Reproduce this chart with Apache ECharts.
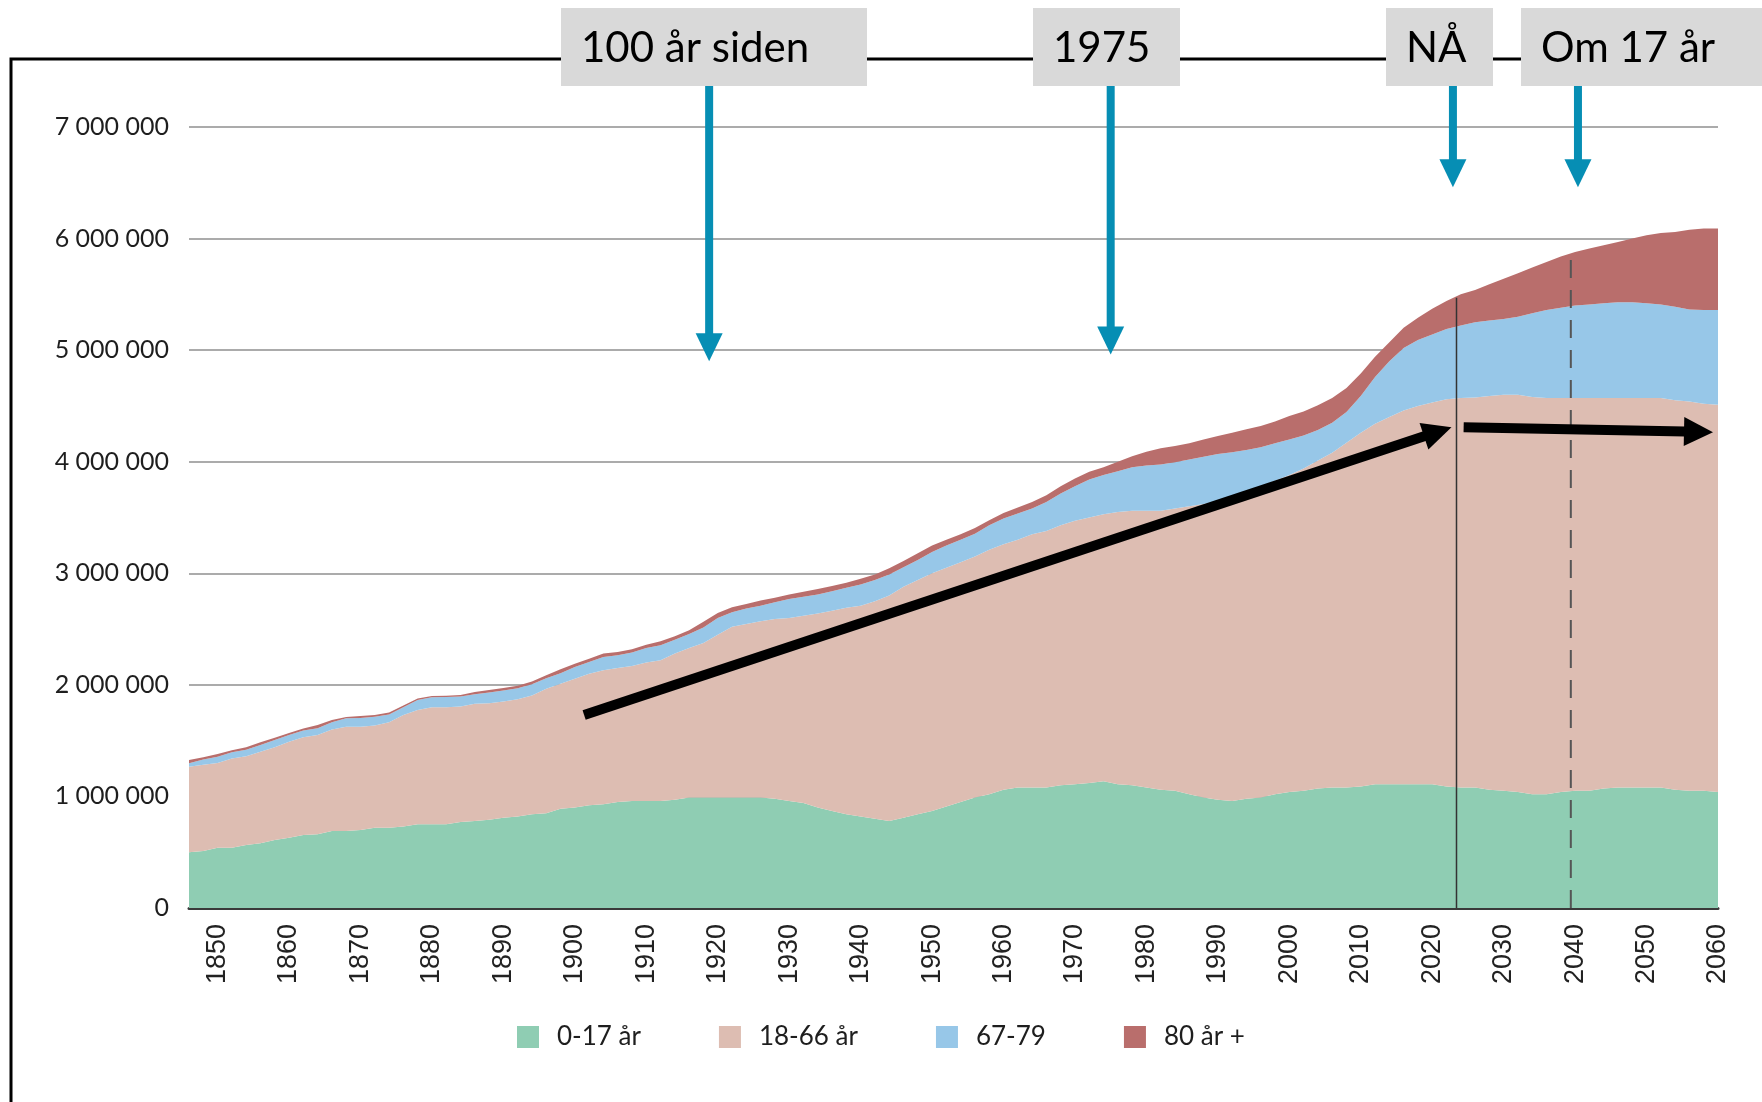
<!DOCTYPE html>
<html>
<head>
<meta charset="utf-8">
<script src="https://cdn.jsdelivr.net/npm/echarts@6/dist/echarts.min.js"></script>
<style>
  html, body { margin: 0; padding: 0; background: #fff; }
  #chart { width: 1762px; height: 1102px; }
</style>
</head>
<body>
<div id="chart"></div>
<script>
// population by age group, in thousands, every second year
const years = [];
for (let y = 1846; y <= 2060; y += 2) years.push(y);

const age0_17 = [
  500, 510, 540, 540, 565, 580, 610, 630, 655, 660,
  690, 690, 700, 720, 720, 730, 750, 750, 750, 770,
  780, 790, 810, 820, 840, 850, 890, 900, 920, 930,
  950, 960, 960, 960, 970, 990, 990, 990, 990, 990,
  990, 980, 960, 940, 900, 870, 840, 820, 800, 780,
  810, 840, 870, 910, 950, 990, 1020, 1060, 1080, 1080,
  1080, 1100, 1110, 1120, 1135, 1110, 1100, 1080, 1060, 1050,
  1020, 990, 970, 960, 980, 990, 1020, 1040, 1050, 1070,
  1080, 1080, 1090, 1110, 1110, 1110, 1110, 1110, 1090, 1080,
  1080, 1060, 1050, 1040, 1020, 1020, 1040, 1050, 1050, 1070,
  1080, 1080, 1080, 1080, 1060, 1050, 1050, 1040
];
const age18_66 = [
  766, 775, 760, 800, 795, 820, 830, 860, 875, 890,
  910, 935, 925, 915, 945, 1000, 1025, 1050, 1050, 1035,
  1050, 1046, 1040, 1050, 1065, 1115, 1120, 1155, 1180, 1200,
  1200, 1210, 1240, 1260, 1310, 1340, 1385, 1460, 1530, 1555,
  1580, 1610, 1640, 1680, 1740, 1795, 1850, 1890, 1950, 2020,
  2070, 2100, 2130, 2140, 2150, 2160, 2190, 2200, 2220, 2270,
  2300, 2330, 2360, 2380, 2395, 2440, 2460, 2480, 2500, 2530,
  2580, 2630, 2680, 2730, 2750, 2790, 2810, 2840, 2890, 2940,
  3000, 3090, 3170, 3230, 3290, 3350, 3390, 3420, 3470, 3490,
  3495, 3530, 3550, 3560, 3560, 3550, 3530, 3520, 3520, 3500,
  3490, 3490, 3490, 3490, 3490, 3490, 3470, 3470
];
const age67_79 = [
  31, 45, 56, 55, 58, 60, 65, 60, 60, 62,
  65, 75, 77, 80, 70, 70, 90, 90, 92, 90,
  85, 96, 100, 100, 100, 95, 95, 105, 105, 120,
  115, 120, 130, 135, 125, 125, 140, 150, 130, 140,
  140, 150, 170, 170, 170, 175, 180, 190, 190, 190,
  175, 180, 190, 200, 200, 205, 220, 230, 235, 230,
  260, 285, 310, 340, 350, 365, 390, 405, 415, 415,
  420, 425, 420, 395, 375, 350, 335, 320, 295, 275,
  270, 275, 330, 420, 500, 560, 590, 610, 630, 650,
  675, 675, 680, 700, 750, 790, 810, 830, 840, 850,
  860, 860, 850, 840, 840, 825, 840, 850
];
const age80plus = [
  29, 22, 24, 20, 22, 25, 20, 18, 18, 28,
  20, 12, 18, 15, 17, 15, 13, 10, 10, 15,
  20, 23, 22, 22, 25, 25, 35, 30, 30, 30,
  30, 30, 30, 35, 30, 35, 50, 45, 45, 40,
  45, 40, 40, 45, 50, 45, 45, 50, 50, 55,
  55, 60, 60, 50, 50, 50, 45, 50, 55, 60,
  60, 65, 70, 70, 70, 85, 100, 125, 145, 145,
  145, 155, 160, 175, 185, 190, 195, 210, 215, 220,
  220, 215, 200, 180, 170, 180, 200, 230, 250, 280,
  290, 325, 360, 390, 410, 430, 460, 480, 500, 520,
  540, 570, 610, 640, 670, 715, 730, 730
];

const groupNames = ['0-17 år', '18-66 år', '67-79', '80 år +'];
const groupValues = [age0_17, age18_66, age67_79, age80plus];
const groupColors = ['#8fcdb3', '#ddbdb2', '#97c7e8', '#b96e6c'];

const xLabelYears = [1850, 1860, 1870, 1880, 1890, 1900, 1910, 1920, 1930, 1940, 1950,
  1960, 1970, 1980, 1990, 2000, 2010, 2020, 2030, 2040, 2050, 2060];

// annotations (data coordinates)
const notes = ['100 år siden', '1975', 'NÅ', 'Om 17 år'];
const noteArrowTips = [[1918.8, 4900000], [1975.0, 4960000], [2022.9, 6460000], [2040.4, 6460000]];
const noteBoxes = [[561, 306], [1033, 147], [1386, 107], [1521, 241]]; // x, width in px
const trendUp = [[1901.3, 1730000], [2022.7, 4310000]];
const trendFlat = [[2024.4, 4310000], [2059.3, 4265000]];
const nowLine = [2023.4, 5470000];
const futureLine = [2039.4, 5870000];

const fmt = (v) => String(v).replace(/\B(?=(\d{3})+(?!\d))/g, ' ');

const option = {
  animation: false,
  backgroundColor: '#fff',
  grid: { left: 189, right: 44, top: 127, bottom: 194 },
  xAxis: {
    type: 'value',
    min: 1846,
    max: 2060,
    axisLine: { show: true, lineStyle: { color: '#3a3a3a', width: 3 } },
    axisTick: { show: false },
    splitLine: { show: false },
    axisLabel: {
      customValues: xLabelYears,
      formatter: (v) => String(v),
      rotate: 90,
      margin: 16,
      fontFamily: 'Liberation Sans',
      fontSize: 27,
      color: '#222',
    },
  },
  yAxis: {
    type: 'value',
    min: 0,
    max: 7000000,
    interval: 1000000,
    axisLine: { show: false },
    axisTick: { show: false },
    splitLine: { lineStyle: { color: '#ababab', width: 2 } },
    axisLabel: {
      formatter: fmt,
      margin: 20,
      fontFamily: 'Lato',
      fontSize: 25,
      color: '#1e1e1e',
    },
  },
  legend: {
    left: 512,
    top: 1019,
    icon: 'rect',
    itemWidth: 22,
    itemHeight: 22,
    itemGap: 78,
    data: groupNames,
    textStyle: { fontFamily: 'Lato', fontSize: 26, color: '#1e1e1e', padding: [0, 0, 0, 13] },
  },
  // value first so the stack runs on the y dimension
  series: groupNames.map((name, k) => ({
    name,
    type: 'line',
    stack: 'pop',
    symbol: 'none',
    encode: { x: 1, y: 0 },
    lineStyle: { width: 0 },
    itemStyle: { color: groupColors[k] },
    areaStyle: { color: groupColors[k], opacity: 1 },
    data: years.map((y, i) => [groupValues[k][i] * 1000, y]),
  })),
};

const chart = echarts.init(document.getElementById('chart'));
chart.setOption(option);

const px = (p) => chart.convertToPixel({ gridIndex: 0 }, p);

function arrow(p0, p1, color, width, headLen, headW, z) {
  const dx = p1[0] - p0[0];
  const dy = p1[1] - p0[1];
  const len = Math.hypot(dx, dy);
  const ux = dx / len;
  const uy = dy / len;
  const bx = p1[0] - ux * headLen;
  const by = p1[1] - uy * headLen;
  const nx = (-uy * headW) / 2;
  const ny = (ux * headW) / 2;
  return [
    { type: 'line', z, shape: { x1: p0[0], y1: p0[1], x2: bx + ux, y2: by + uy }, style: { stroke: color, lineWidth: width } },
    { type: 'polygon', z, shape: { points: [[p1[0], p1[1]], [bx + nx, by + ny], [bx - nx, by - ny]] }, style: { fill: color } },
  ];
}

const elements = [];
// outer frame (top and left only)
elements.push({
  type: 'polyline', z: 10,
  shape: { points: [[11, 1102], [11, 59], [1762, 59]] },
  style: { stroke: '#000', lineWidth: 3, fill: null },
});

// now / future reference lines
const n0 = px([nowLine[0], 0]);
const n1 = px(nowLine);
elements.push({ type: 'line', z: 10, shape: { x1: n0[0], y1: n0[1], x2: n1[0], y2: n1[1] }, style: { stroke: '#333', lineWidth: 1.5 } });
const f0 = px([futureLine[0], 0]);
const f1 = px(futureLine);
elements.push({ type: 'line', z: 10, shape: { x1: f0[0], y1: f0[1], x2: f1[0], y2: f1[1] }, style: { stroke: '#555', lineWidth: 2, lineDash: [18, 12] } });

// black trend arrows
elements.push(...arrow(px(trendUp[0]), px(trendUp[1]), '#000', 10, 29, 28, 12));
elements.push(...arrow(px(trendFlat[0]), px(trendFlat[1]), '#000', 10, 29, 29, 12));

// label boxes with teal arrows
notes.forEach((txt, i) => {
  const [bx, bw] = noteBoxes[i];
  elements.push({ type: 'rect', z: 11, shape: { x: bx, y: 8, width: bw, height: 78 }, style: { fill: '#d9d9d9' } });
  elements.push({
    type: 'text', z: 12,
    style: { text: txt, x: bx + 20, y: 48, fill: '#000', fontFamily: 'Lato', fontSize: 42, align: 'left', verticalAlign: 'middle' },
  });
  const tip = px(noteArrowTips[i]);
  elements.push(...arrow([tip[0], 86], tip, '#068eb4', 8, 28, 27, 12));
});

chart.setOption({ graphic: { elements } });
</script>
</body>
</html>
